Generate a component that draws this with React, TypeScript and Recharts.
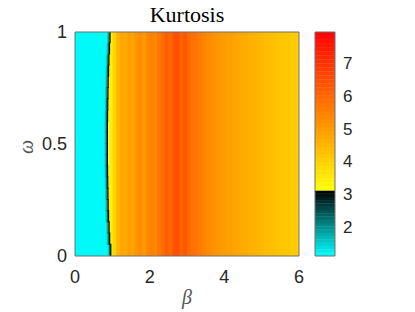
import { ComposedChart, XAxis, YAxis, ReferenceArea, ReferenceLine } from 'recharts';

// kurtosis per beta column (left edge of each 0.1-wide column, from 0.9 to 5.9)
const betaStart = 0.9;
const betaStep = 0.1;
const columnKurtosis = [
  3.4, 3.9, 4.5, 4.8, 4.7, 4.95, 4.85, 5.1, 5.25, 5.05, 5.35,
  5.5, 5.4, 5.7, 5.9, 6.2, 6.0, 6.35, 6.45, 6.1, 6.3,
  5.95, 5.8, 5.7, 5.55, 5.45, 5.35, 5.25, 5.15, 5.1, 5.0,
  4.95, 4.9, 4.85, 4.78, 4.72, 4.68, 4.62, 4.58, 4.52, 4.48,
  4.42, 4.38, 4.33, 4.3, 4.25, 4.2, 4.16, 4.12, 4.08, 4.05,
];

// beta where the low-kurtosis (cyan) region ends, per omega row of 0.05
const omegaStep = 0.05;
const edgeBeta = [
  0.97, 0.94, 0.925, 0.91, 0.9, 0.895, 0.89, 0.885, 0.88, 0.88,
  0.88, 0.88, 0.885, 0.89, 0.895, 0.9, 0.91, 0.92, 0.935, 0.95,
];
const cyanKurtosis = 1.15;
// dark ramp just before the edge
const rampKurtosis = [1.5, 2.2, 2.95];
const rampWidth = 0.03;

const xTicks = [0, 2, 4, 6];
const yTicks = [0, 0.5, 1];
const cbarTicks = [2, 3, 4, 5, 6, 7];

const vMin = 1.1;
const vMid = 3.1;
const vMax = 7.95;

const colorFor = (v: number) => {
  if (v < vMid) {
    const t = Math.max(0, Math.min(1, (v - vMin) / (vMid - vMin)));
    const c = Math.round(255 * (1 - t));
    return `rgb(0,${c},${c})`;
  }
  const t = Math.max(0, Math.min(1, (v - vMid) / (vMax - vMid)));
  return `rgb(255,${Math.round(255 * (1 - t))},0)`;
};

const cbarLevels: number[][] = [];
for (let i = 0; i < 20; i++) {
  cbarLevels.push([vMin + ((vMid - vMin) * i) / 20, vMin + ((vMid - vMin) * (i + 1)) / 20]);
}
for (let i = 0; i < 40; i++) {
  cbarLevels.push([vMid + ((vMax - vMid) * i) / 40, vMid + ((vMax - vMid) * (i + 1)) / 40]);
}

const tickStyle = { fontSize: 18, fill: '#262626', fontFamily: 'Liberation Sans, Arial, sans-serif' };
const axisStroke = '#707070';

export default function App() {
  return (
    <div style={{ position: 'absolute', left: 0, top: 0, width: 415, height: 312, background: '#fff' }}>
      <div
        style={{
          position: 'absolute', left: 75, width: 224, top: 4, textAlign: 'center',
          fontFamily: 'Liberation Serif, Times New Roman, serif', fontSize: 22, lineHeight: '22px', color: '#000',
        }}
      >
        Kurtosis
      </div>
      <div
        style={{
          position: 'absolute', left: 75, width: 224, top: 287, textAlign: 'center',
          fontFamily: 'Liberation Serif, Times New Roman, serif', fontStyle: 'italic', fontSize: 20, lineHeight: '20px', color: '#555',
        }}
      >
        β
      </div>
      <div
        style={{
          position: 'absolute', left: 16, top: 137, width: 20, height: 20, textAlign: 'center',
          fontFamily: 'Liberation Serif, Times New Roman, serif', fontStyle: 'italic', fontSize: 20, lineHeight: '20px', color: '#555',
          transform: 'rotate(-90deg)',
        }}
      >
        ω
      </div>

      <div style={{ position: 'absolute', left: 0, top: 0 }}>
        <ComposedChart width={415} height={312} margin={{ top: 32, right: 116, bottom: 26, left: 35 }} data={[]}>
          <XAxis
            type="number" dataKey="x" domain={[0, 6]} ticks={xTicks} allowDataOverflow
            height={30} tick={tickStyle} tickLine={false} tickMargin={8}
            axisLine={{ stroke: axisStroke }}
          />
          <YAxis
            type="number" dataKey="y" domain={[0, 1]} ticks={yTicks} allowDataOverflow
            width={40} tick={tickStyle} tickLine={false} axisLine={{ stroke: axisStroke }}
          />
          {columnKurtosis.map((k, i) => {
            const x1 = betaStart + i * betaStep;
            return (
              <ReferenceArea
                key={`c${i}`} x1={x1} x2={Math.min(6, x1 + betaStep + 0.02)} y1={0} y2={1}
                fill={colorFor(k)} fillOpacity={1} stroke="none" ifOverflow="visible"
              />
            );
          })}
          {edgeBeta.map((e, r) => {
            const y1 = r * omegaStep;
            const y2 = Math.min(1, y1 + omegaStep + 0.005);
            const rampStart = e - rampKurtosis.length * rampWidth;
            return [
              <ReferenceArea
                key={`cy${r}`} x1={0} x2={rampStart + 0.01} y1={y1} y2={y2}
                fill={colorFor(cyanKurtosis)} fillOpacity={1} stroke="none" ifOverflow="visible"
              />,
              ...rampKurtosis.map((k, j) => (
                <ReferenceArea
                  key={`r${r}-${j}`} x1={rampStart + j * rampWidth} x2={rampStart + (j + 1) * rampWidth + 0.005}
                  y1={y1} y2={y2} fill={colorFor(k)} fillOpacity={1} stroke="none" ifOverflow="visible"
                />
              )),
            ];
          })}
          <ReferenceLine x={6} stroke={axisStroke} />
          <ReferenceLine y={1} stroke={axisStroke} />
        </ComposedChart>
      </div>

      <div style={{ position: 'absolute', left: 300, top: 0 }}>
        <ComposedChart width={115} height={312} margin={{ top: 32, right: 20, bottom: 56, left: 15 }} data={[]}>
          <XAxis type="number" dataKey="x" domain={[0, 1]} allowDataOverflow hide />
          <YAxis
            type="number" dataKey="y" orientation="right" domain={[vMin, vMax]} ticks={cbarTicks} allowDataOverflow
            width={60} tick={{ ...tickStyle, fontSize: 17 }} tickLine={false} axisLine={false}
          />
          {cbarLevels.map(([a, b], i) => (
            <ReferenceArea
              key={`l${i}`} x1={0} x2={1} y1={a} y2={Math.min(vMax, b + 0.01)}
              fill={colorFor((a + b) / 2)} fillOpacity={1} stroke="none" ifOverflow="visible"
            />
          ))}
          <ReferenceArea x1={0} x2={1} y1={vMin} y2={vMax} fill="none" stroke={axisStroke} ifOverflow="visible" />
        </ComposedChart>
      </div>
    </div>
  );
}
